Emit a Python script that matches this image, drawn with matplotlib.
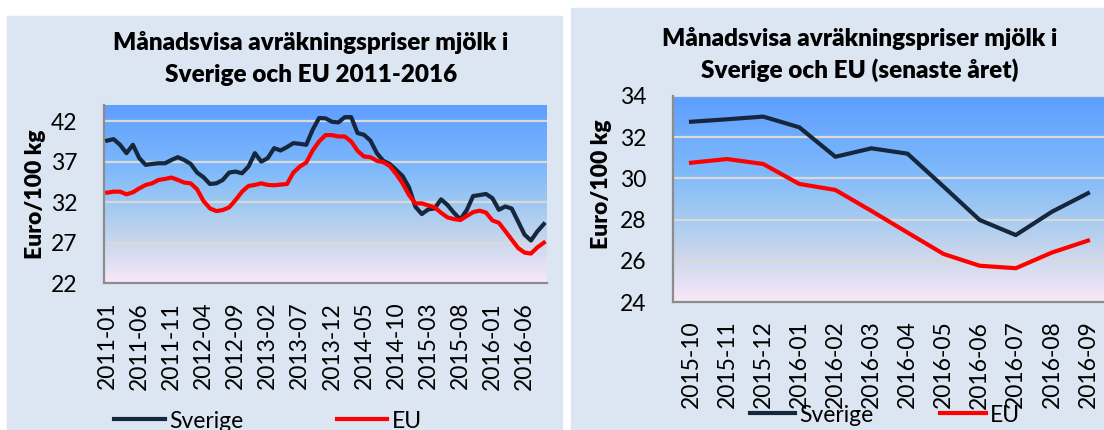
import matplotlib
matplotlib.use("Agg")
import matplotlib.pyplot as plt
import numpy as np
import pandas as pd
from matplotlib.colors import LinearSegmentedColormap
from matplotlib.patches import Rectangle

plt.rcParams['font.family'] = ['Lato', 'DejaVu Sans']

months = list(pd.period_range('2011-01', '2016-09', freq='M').strftime('%Y-%m'))

sverige = [39.6, 39.78, 39.08, 38.05, 39.08, 37.43, 36.6, 36.72, 36.8, 36.8,
           37.2, 37.55, 37.2, 36.72, 35.65, 35.07, 34.24, 34.32, 34.74, 35.65,
           35.77, 35.56, 36.39, 38.05, 37.0, 37.43, 38.67, 38.38, 38.8, 39.29,
           39.2, 39.08, 40.94, 42.39, 42.35, 41.93, 41.85, 42.5, 42.5, 40.53,
           40.32, 39.6, 38.05, 37.1, 36.72, 35.98, 35.23, 33.83, 31.43, 30.52,
           31.1, 31.22, 32.34, 31.64, 30.68, 29.86, 31.01,
           32.75, 32.87, 33.0, 32.48, 31.05, 31.46, 31.2, 29.6, 27.98, 27.25,
           28.38, 29.28]
eu = [33.17, 33.29, 33.29, 32.96, 33.21, 33.7, 34.12, 34.32, 34.74, 34.86,
      35.03, 34.74, 34.41, 34.32, 33.58, 32.13, 31.22, 30.89, 31.02, 31.35,
      32.26, 33.29, 33.99, 34.12, 34.32, 34.12, 34.08, 34.16, 34.24, 35.65,
      36.39, 36.89, 38.38, 39.49, 40.28, 40.28, 40.11, 40.11, 39.49, 38.34,
      37.63, 37.55, 37.1, 36.93, 36.47, 35.48, 34.32, 32.88, 31.84, 31.84,
      31.59, 31.35, 30.68, 30.11, 29.9, 29.78, 30.27,
      30.76, 30.94, 30.7, 29.73, 29.44, 28.42, 27.37, 26.33, 25.76, 25.64,
      26.4, 26.98]

left_yticks = [22, 27, 32, 37, 42]
right_yticks = [24, 26, 28, 30, 32, 34]

W, H = 1104, 430
PANEL_BG = '#DCE6F2'
NAVY = '#15263D'
RED = '#FF0000'
TICK_FS = 16.5
TITLE_FS = 17.5

grad = LinearSegmentedColormap.from_list(
    'bg', [(0.0, '#5E9EFF'), (0.35, '#7DB8FB'), (0.55, '#9EC8F2'),
           (0.75, '#C6D5EC'), (1.0, '#F8E8F8')])


def px_rect(x0, y0, x1, y1):
    return [x0 / W, 1 - y1 / H, (x1 - x0) / W, (y1 - y0) / H]


def style_axes(ax, ylim, yticks):
    ax.imshow(np.linspace(0, 1, 256).reshape(-1, 1), cmap=grad, aspect='auto',
              extent=[0, 1, 0, 1], transform=ax.transAxes, zorder=0)
    ax.set_ylim(*ylim)
    ax.set_yticks(yticks)
    for t in yticks[1:]:
        ax.axhline(t, color='#D9D9D9', lw=1.6, zorder=1)
    for s in ['top', 'right']:
        ax.spines[s].set_visible(False)
    for s in ['left', 'bottom']:
        ax.spines[s].set_color('#8C8C8C')
        ax.spines[s].set_linewidth(1.6)
    ax.tick_params(axis='both', length=0, labelsize=TICK_FS)
    ax.tick_params(axis='y', pad=19)
    ax.tick_params(axis='x', pad=13.5)


fig = plt.figure(figsize=(W / 100, H / 100), dpi=100)
fig.patches.append(Rectangle((7 / W, 0), (562 - 7) / W, 1 - 16 / H,
                             transform=fig.transFigure, color=PANEL_BG, zorder=-1))
fig.patches.append(Rectangle((571 / W, 0), (W - 571) / W, 1 - 8 / H,
                             transform=fig.transFigure, color=PANEL_BG, zorder=-1))

# left panel: 2011-2016
ax1 = fig.add_axes(px_rect(104, 105, 547, 283))
style_axes(ax1, (22, 44), left_yticks)
x_all = np.arange(len(months))
l1, = ax1.plot(x_all, sverige, color=NAVY, lw=3, zorder=3, label='Sverige')
l2, = ax1.plot(x_all, eu, color=RED, lw=3, zorder=3, label='EU')
ax1.set_xlim(-0.5, len(months) - 0.5)
ax1.set_xticks(x_all[::5])
ax1.set_xticklabels(months[::5], rotation=90)
fig.text(311 / W, 1 - 42 / H, 'Månadsvisa avräkningspriser mjölk i',
         ha='center', va='center', fontsize=TITLE_FS, fontweight='heavy')
fig.text(311 / W, 1 - 75 / H, 'Sverige och EU 2011-2016',
         ha='center', va='center', fontsize=TITLE_FS, fontweight='heavy')
fig.text(36 / W, 1 - 194 / H, 'Euro/100 kg', rotation=90,
         ha='center', va='center', fontsize=16.5, fontweight='heavy')
ax1.legend(handles=[l1, l2], loc='center', bbox_to_anchor=(268 / W, 1 - 421 / H),
           bbox_transform=fig.transFigure, ncol=2, frameon=False, fontsize=TICK_FS,
           handlelength=2.2, handletextpad=0.18, columnspacing=4.1)

# right panel: last 12 months
ax2 = fig.add_axes(px_rect(673, 96, 1106, 302))
style_axes(ax2, (24, 34), right_yticks)
last = months[-12:]
x_last = np.arange(len(last))
r1, = ax2.plot(x_last, sverige[-12:], color=NAVY, lw=3, zorder=3, label='Sverige')
r2, = ax2.plot(x_last, eu[-12:], color=RED, lw=3, zorder=3, label='EU')
ax2.set_xlim(-0.5, len(last) - 0.5)
ax2.set_xticks(x_last)
ax2.set_xticklabels(last, rotation=90)
fig.text(860 / W, 1 - 38 / H, 'Månadsvisa avräkningspriser mjölk i',
         ha='center', va='center', fontsize=TITLE_FS, fontweight='heavy')
fig.text(860 / W, 1 - 70 / H, 'Sverige och EU (senaste året)',
         ha='center', va='center', fontsize=TITLE_FS, fontweight='heavy')
fig.text(601 / W, 1 - 184 / H, 'Euro/100 kg', rotation=90,
         ha='center', va='center', fontsize=16.5, fontweight='heavy')
ax2.legend(handles=[r1, r2], loc='center', bbox_to_anchor=(885 / W, 1 - 415 / H),
           bbox_transform=fig.transFigure, ncol=2, frameon=False, fontsize=TICK_FS,
           handlelength=2.0, handletextpad=0.18, columnspacing=2.9)

fig.savefig('out.png', dpi=100)
